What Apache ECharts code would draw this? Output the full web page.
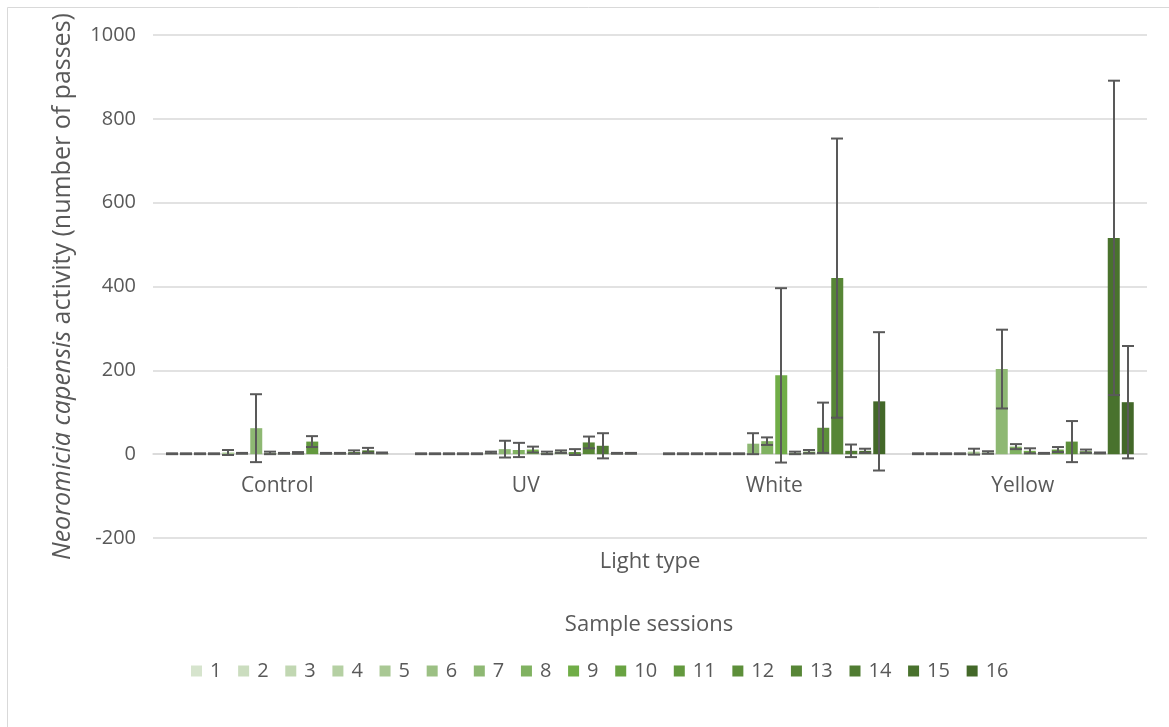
<!DOCTYPE html>
<html>
<head>
<meta charset="utf-8">
<script src="https://cdn.jsdelivr.net/npm/echarts@6/dist/echarts.min.js"></script>
<style>
  html, body { margin: 0; padding: 0; background: #ffffff; }
  #chart { width: 1169px; height: 727px; }
</style>
</head>
<body>
<div id="chart"></div>
<script>
// Light types along the category axis
const lightTypes = ['Control', 'UV', 'White', 'Yellow'];
// Sample sessions (one bar series each)
const sessions = ['1', '2', '3', '4', '5', '6', '7', '8', '9', '10', '11', '12', '13', '14', '15', '16'];

// Mean number of passes per session, for each light type
const meanControl = [1, 1, 1, 1, 4, 2, 62, 3, 2, 3, 30, 2, 2, 5, 9, 3];
const meanUV      = [1, 1, 1, 1, 1, 4, 12, 10, 11, 3, 6, 5, 28, 20, 2, 2];
const meanWhite   = [1, 1, 1, 1, 1, 1, 25, 31, 188, 3, 6, 63, 420, 8, 8, 126];
const meanYellow  = [1, 1, 1, 1, 6, 4, 203, 18, 8, 2, 11, 30, 7, 3, 516, 124];

// Error (± deviation) per session, for each light type
const errControl = [1, 1, 1, 1, 6, 1, 81, 3, 1, 2, 13, 1, 1, 4, 6, 1];
const errUV      = [1, 1, 1, 1, 1, 2, 20, 17, 7, 3, 3, 7, 14, 30, 1, 1];
const errWhite   = [1, 1, 1, 1, 1, 1, 25, 9, 208, 3, 4, 60, 333, 15, 5, 165];
const errYellow  = [1, 1, 1, 1, 7, 3, 94, 6, 6, 1, 6, 49, 4, 1, 375, 134];

// Value axis ticks
const yTicks = [-200, 0, 200, 400, 600, 800, 1000];

// Monochromatic green palette, lightest to darkest
const sessionColors = [
  '#d6e4cd', '#cbddbf', '#c1d7b2', '#b5d0a3', '#a9c894', '#9cc084', '#8eb873', '#80b261',
  '#70ad47', '#69a342', '#63993e', '#5d8f3a', '#578636', '#507c32', '#49722d', '#436829'
];

const means = [meanControl, meanUV, meanWhite, meanYellow];
const errs = [errControl, errUV, errWhite, errYellow];

const FONT = '"Open Sans", "Noto Sans", sans-serif';
const TEXT = '#595959';
const GRID = '#d9d9d9';
const BAR_W = 12;
const BAR_GAP_PX = 2;

// Plot box
const GRID_TOP = 35;
const GRID_BOTTOM = 189;
const CHART_H = 727;
const plotH = CHART_H - GRID_TOP - GRID_BOTTOM;
const yMin = yTicks[0];
const yMax = yTicks[yTicks.length - 1];
// distance from the plot bottom up to the zero line, so the category axis sits on zero
const zeroLift = plotH * (0 - yMin) / (yMax - yMin);

const barSeries = sessions.map((name, s) => ({
  name: name,
  type: 'bar',
  barWidth: BAR_W,
  barGap: (BAR_GAP_PX / BAR_W * 100).toFixed(2) + '%',
  itemStyle: { color: sessionColors[s] },
  data: lightTypes.map((_, c) => means[c][s]),
  z: 2
}));

// Error bar records: [category index, session index, mean, error]
const errorData = [];
lightTypes.forEach((_, c) => {
  sessions.forEach((_, s) => {
    errorData.push([c, s, means[c][s], errs[c][s]]);
  });
});

const nSess = sessions.length;
const groupW = nSess * BAR_W + (nSess - 1) * BAR_GAP_PX;

const errorSeries = {
  type: 'custom',
  name: 'error',
  data: errorData,
  encode: { x: 0, y: 2 },
  z: 5,
  silent: true,
  renderItem: function (params, api) {
    const c = api.value(0);
    const s = api.value(1);
    const m = api.value(2);
    const e = api.value(3);
    const hi = api.coord([c, m + e]);
    const lo = api.coord([c, m - e]);
    const x = Math.round(hi[0] - groupW / 2 + s * (BAR_W + BAR_GAP_PX) + BAR_W / 2);
    const half = BAR_W / 2;
    const style = { stroke: '#595959', lineWidth: 2 };
    return {
      type: 'group',
      children: [
        { type: 'line', shape: { x1: x, y1: hi[1], x2: x, y2: lo[1] }, style: style },
        { type: 'line', shape: { x1: x - half, y1: hi[1], x2: x + half, y2: hi[1] }, style: style },
        { type: 'line', shape: { x1: x - half, y1: lo[1], x2: x + half, y2: lo[1] }, style: style }
      ]
    };
  }
};

const chart = echarts.init(document.getElementById('chart'), null, { renderer: 'canvas' });

chart.setOption({
  animation: false,
  backgroundColor: '#ffffff',
  textStyle: { fontFamily: FONT, color: TEXT },
  grid: { left: 153, right: 22, top: GRID_TOP, bottom: GRID_BOTTOM, containLabel: false },
  graphic: [
    {
      type: 'rect',
      shape: { x: 7.5, y: 7.5, width: 1200, height: 800 },
      style: { fill: 'none', stroke: GRID, lineWidth: 1 },
      silent: true,
      z: -1
    },
    {
      type: 'text',
      x: 649,
      y: 625,
      style: {
        text: 'Sample sessions',
        fontFamily: FONT,
        fontSize: 22,
        fill: TEXT,
        align: 'center',
        verticalAlign: 'middle'
      }
    }
  ],
  legend: {
    data: sessions,
    left: 186,
    top: 656,
    itemWidth: 11,
    itemHeight: 11,
    itemGap: 16.7,
    icon: 'rect',
    textStyle: { fontFamily: FONT, fontSize: 20, color: TEXT, padding: [0, 0, 0, 3] }
  },
  xAxis: {
    type: 'category',
    data: lightTypes,
    position: 'bottom',
    offset: -zeroLift,
    axisLine: { onZero: false, lineStyle: { color: GRID, width: 1.5 } },
    axisTick: { show: false },
    axisLabel: { fontFamily: FONT, fontSize: 21, color: TEXT, margin: 21 },
    name: 'Light type',
    nameLocation: 'middle',
    nameGap: 97,
    nameTextStyle: { fontFamily: FONT, fontSize: 22, color: TEXT }
  },
  yAxis: {
    type: 'value',
    min: yMin,
    max: yMax,
    interval: 200,
    axisLine: { show: false },
    axisTick: { show: false },
    splitLine: { lineStyle: { color: GRID, width: 1.5 } },
    axisLabel: {
      fontFamily: FONT, fontSize: 20, color: TEXT, margin: 17,
      formatter: function (v) { return String(v); }
    },
    name: '{i|Neoromicia capensis} activity (number of passes)',
    nameLocation: 'middle',
    nameRotate: 90,
    nameGap: 78,
    nameTextStyle: {
      fontFamily: FONT,
      fontSize: 25,
      color: TEXT,
      padding: [0, 0, 0, 0],
      rich: {
        i: { fontFamily: FONT, fontSize: 25, color: TEXT, fontStyle: 'italic' }
      }
    }
  },
  series: barSeries.concat([errorSeries])
});
</script>
</body>
</html>
